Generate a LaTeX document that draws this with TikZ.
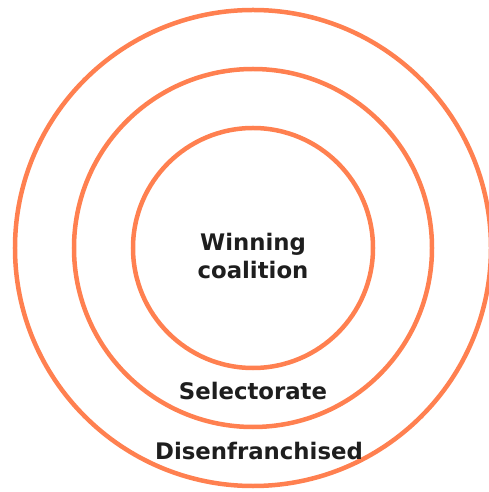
\documentclass[tikz,border=0pt]{standalone}
\usepackage{fontspec}
\setmainfont{DejaVu Sans}

\begin{document}
\begin{tikzpicture}[
  x=1pt, y=1pt,
  ring/.style={line width=4.5pt, draw=ringCol},
  ringlbl/.style={font=\fontsize{22.8}{28}\selectfont\bfseries, align=center, text=lblCol, inner sep=0pt},
]

%% ── Colours ──────────────────────────────────────────────────────────────────
\definecolor{ringCol}{HTML}{FF8050}
\definecolor{lblCol}{HTML}{1E1E1E}

%% ── Canvas ───────────────────────────────────────────────────────────────────
\useasboundingbox (-253,-244) rectangle (236,248);

%% ── Nested rings (centre at origin) ──────────────────────────────────────────
\draw[ring] (0,0) circle (238);
\draw[ring] (0,0) circle (179);
\draw[ring] (0,0) circle (120);

%% ── Ring labels ──────────────────────────────────────────────────────────────
\node[ringlbl] (win) at (0,-8)            {Winning\\coalition};
\node[ringlbl, anchor=base] (sel) at (0,-151) {Selectorate};
\node[ringlbl, anchor=base] (dis) at (6,-211) {Disenfranchised};

\end{tikzpicture}
\end{document}
